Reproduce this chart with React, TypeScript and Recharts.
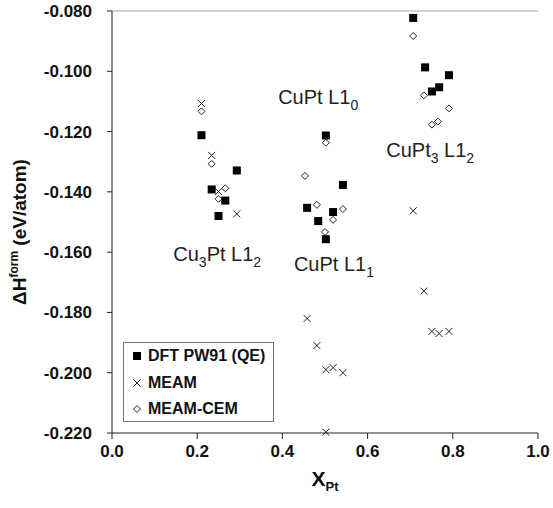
import { ScatterChart, Scatter, XAxis, YAxis, ReferenceLine, ReferenceDot } from 'recharts';

// x = mole fraction of Pt, y = formation enthalpy (eV/atom)
const dftX = [0.21, 0.234, 0.266, 0.25, 0.293, 0.502, 0.542, 0.458, 0.519, 0.484, 0.502, 0.707, 0.735, 0.791, 0.768, 0.751];
const dftY = [-0.1212, -0.1392, -0.1429, -0.148, -0.1329, -0.1213, -0.1377, -0.1453, -0.1467, -0.1497, -0.1557, -0.0823, -0.0987, -0.1013, -0.1053, -0.1067];

const meamX = [0.21, 0.234, 0.25, 0.293, 0.458, 0.481, 0.502, 0.519, 0.542, 0.502, 0.707, 0.732, 0.751, 0.768, 0.791];
const meamY = [-0.1107, -0.1279, -0.1399, -0.1473, -0.182, -0.191, -0.199, -0.1983, -0.2, -0.2197, -0.1463, -0.1729, -0.1863, -0.187, -0.1863];

const cemX = [0.21, 0.234, 0.266, 0.25, 0.293, 0.502, 0.453, 0.481, 0.542, 0.519, 0.5, 0.707, 0.732, 0.791, 0.765, 0.751];
const cemY = [-0.1133, -0.1307, -0.1388, -0.1423, -0.133, -0.1237, -0.1347, -0.1443, -0.1457, -0.1493, -0.1533, -0.0883, -0.108, -0.1123, -0.1167, -0.1177];

const xTicks = [0, 0.2, 0.4, 0.6, 0.8, 1.0];
const yTicks = [-0.22, -0.2, -0.18, -0.16, -0.14, -0.12, -0.1, -0.08];

// phase labels: main text, subscript after "Cu", tail text, final subscript
const phaseNames = [
  { x: 0.247, y: -0.163, pre: 'Cu', sub1: '3', mid: 'Pt L1', sub2: '2' },
  { x: 0.484, y: -0.111, pre: 'CuPt L1', sub1: '', mid: '', sub2: '0' },
  { x: 0.521, y: -0.1663, pre: 'CuPt L1', sub1: '', mid: '', sub2: '1' },
  { x: 0.747, y: -0.1283, pre: 'CuPt', sub1: '3', mid: ' L1', sub2: '2' },
];

const zip = (xs: number[], ys: number[]) => xs.map((x, i) => ({ x, y: ys[i] }));
const dftData = zip(dftX, dftY);
const meamData = zip(meamX, meamY);
const cemData = zip(cemX, cemY);

const FONT = '"Liberation Sans", Arial, sans-serif';

const Square = ({ cx, cy }: any) => <rect x={cx - 4} y={cy - 4} width={8} height={8} fill="#000" />;
const Cross = ({ cx, cy }: any) => (
  <path d={`M${cx - 3.5},${cy - 3.5}L${cx + 3.5},${cy + 3.5}M${cx - 3.5},${cy + 3.5}L${cx + 3.5},${cy - 3.5}`} stroke="#222" strokeWidth={1} />
);
const Diamond = ({ cx, cy }: any) => (
  <path d={`M${cx},${cy - 3.5}L${cx + 3.5},${cy}L${cx},${cy + 3.5}L${cx - 3.5},${cy}Z`} stroke="#222" strokeWidth={1} fill="#fff" />
);

const legendItems = [
  { name: 'DFT PW91 (QE)', Icon: Square },
  { name: 'MEAM', Icon: Cross },
  { name: 'MEAM-CEM', Icon: Diamond },
];

const LegendBox = () => (
  <div style={{ position: 'absolute', left: 123, top: 342, border: '1px solid #777', background: '#fff', width: 151, height: 80, boxSizing: 'border-box', padding: '0 0 0 7px' }}>
    {legendItems.map(({ name, Icon }) => (
      <div key={name} style={{ display: 'flex', alignItems: 'center', height: 26.5, fontFamily: FONT, fontWeight: 'bold', fontSize: 16, color: '#111' }}>
        <svg width={14} height={14} style={{ marginRight: 3 }}>
          <Icon cx={6} cy={7} />
        </svg>
        {name}
      </div>
    ))}
  </div>
);

const PhaseLabel = (p: any) => ({ viewBox }: any) => {
  const cx = viewBox.x + viewBox.width / 2;
  const cy = viewBox.y + viewBox.height / 2;
  return (
    <text x={cx} y={cy} textAnchor="middle" fontFamily={FONT} fontSize={20} fill="#222">
      <tspan>{p.pre}</tspan>
      {p.sub1 && <tspan dy={6} fontSize={14}>{p.sub1}</tspan>}
      {p.mid && <tspan dy={p.sub1 ? -6 : 0}>{p.mid}</tspan>}
      <tspan dy={6} fontSize={14}>{p.sub2}</tspan>
    </text>
  );
};

const YTitle = ({ viewBox }: any) => {
  const x = 26;
  const y = viewBox.y + viewBox.height / 2 + 10;
  return (
    <text x={x} y={y} transform={`rotate(-90 ${x} ${y})`} textAnchor="middle" fontFamily={FONT} fontWeight="bold" fontSize={19} fill="#111">
      <tspan>ΔH</tspan>
      <tspan dy={-8} fontSize={12}>form</tspan>
      <tspan dy={8}> (eV/atom)</tspan>
    </text>
  );
};

const XTitle = ({ viewBox }: any) => {
  const x = viewBox.x + viewBox.width / 2;
  const y = viewBox.y + 53;
  return (
    <text x={x} y={y} textAnchor="middle" fontFamily={FONT} fontWeight="bold" fontSize={21} fill="#111">
      <tspan>X</tspan>
      <tspan dy={5} fontSize={13}>Pt</tspan>
    </text>
  );
};

export default function App() {
  const tick = { fill: '#111', fontSize: 17, fontWeight: 'bold', fontFamily: FONT };
  return (
    <div style={{ position: 'absolute', left: 0, top: 0, width: 553, height: 508, background: '#fff' }}>
      <ScatterChart width={553} height={508} margin={{ top: 11, right: 15, bottom: 15, left: 0 }}>
        <XAxis
          type="number"
          dataKey="x"
          domain={[0, 1]}
          ticks={xTicks}
          tickFormatter={(v: number) => v.toFixed(1)}
          tick={tick}
          tickSize={6}
          tickMargin={6}
          stroke="#222"
          height={60}
          label={{ content: XTitle }}
        />
        <YAxis
          type="number"
          dataKey="y"
          domain={[-0.22, -0.08]}
          ticks={yTicks}
          tickFormatter={(v: number) => v.toFixed(3)}
          tick={tick}
          tickSize={5}
          tickMargin={15}
          stroke="#222"
          width={112}
          label={{ content: YTitle }}
        />
        <ReferenceLine y={-0.08} stroke="#aaa" />
        <Scatter name="MEAM-CEM" data={cemData} shape={Diamond} isAnimationActive={false} />
        <Scatter name="MEAM" data={meamData} shape={Cross} isAnimationActive={false} />
        <Scatter name="DFT PW91 (QE)" data={dftData} shape={Square} isAnimationActive={false} />
        {phaseNames.map((p, i) => (
          <ReferenceDot key={i} x={p.x} y={p.y} r={0} fill="none" stroke="none" label={{ content: PhaseLabel(p) }} />
        ))}
      </ScatterChart>
      <LegendBox />
    </div>
  );
}
